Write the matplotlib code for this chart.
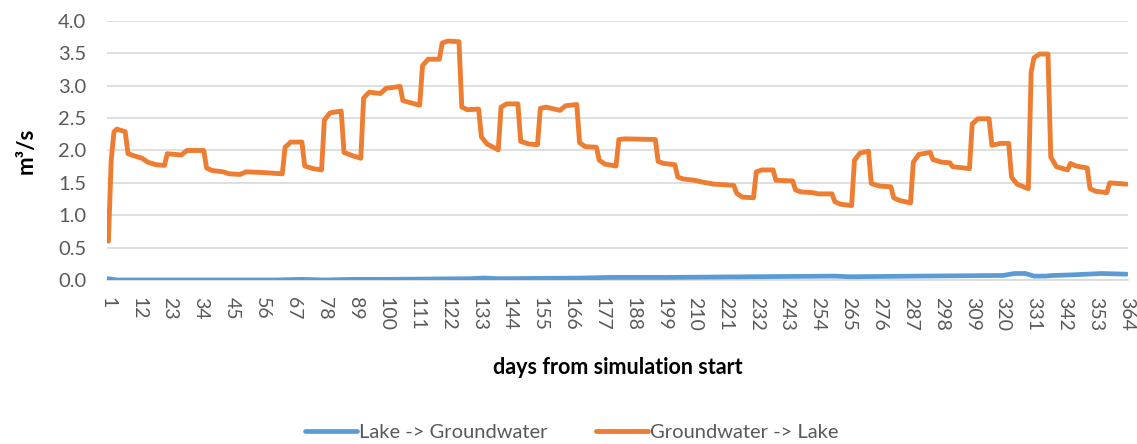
"""Daily lake / groundwater exchange flows over the simulation year."""

import matplotlib

matplotlib.use("Agg")
import matplotlib.pyplot as plt


# breakpoints (day, m3/s)
GW_TO_LAKE_DAYS = [
    1, 2, 3, 4, 7, 8, 10, 13, 15, 18, 21, 22, 27, 29, 35, 36, 38, 42, 44, 48,
    50, 56, 63, 64, 66, 70, 71, 74, 77, 78, 80, 84, 85, 88, 91, 92, 94, 98,
    100, 105, 106, 112, 113, 115, 119, 120, 122, 126, 127, 129, 133, 134, 136,
    140, 141, 143, 147, 148, 151, 154, 155, 157, 162, 164, 168, 169, 171, 175,
    176, 178, 182, 183, 185, 196, 197, 199, 203, 204, 206, 210, 213, 217, 221,
    224, 225, 227, 231, 232, 234, 238, 239, 245, 246, 248, 252, 254, 259, 260,
    262, 266, 267, 269, 272, 273, 276, 280, 281, 283, 287, 288, 290, 294, 295,
    298, 301, 302, 308, 309, 311, 315, 316, 319, 322, 323, 325, 329, 330, 331,
    333, 336, 337, 339, 343, 344, 346, 350, 351, 353, 357, 358, 364,
]
GW_TO_LAKE = [
    0.60, 1.85, 2.29, 2.33, 2.29, 1.95, 1.92, 1.88, 1.82, 1.78, 1.77, 1.95,
    1.93, 2.00, 2.00, 1.73, 1.69, 1.67, 1.64, 1.63, 1.67, 1.66, 1.64, 2.05,
    2.13, 2.13, 1.76, 1.72, 1.70, 2.47, 2.58, 2.61, 1.97, 1.92, 1.88, 2.81,
    2.90, 2.88, 2.96, 2.99, 2.77, 2.70, 3.31, 3.41, 3.41, 3.66, 3.69, 3.68,
    2.67, 2.63, 2.64, 2.21, 2.10, 2.01, 2.67, 2.72, 2.72, 2.14, 2.10, 2.09,
    2.65, 2.67, 2.62, 2.69, 2.71, 2.12, 2.06, 2.05, 1.85, 1.79, 1.76, 2.17,
    2.18, 2.17, 1.83, 1.80, 1.78, 1.59, 1.56, 1.54, 1.51, 1.48, 1.47, 1.46,
    1.34, 1.28, 1.27, 1.67, 1.70, 1.70, 1.54, 1.53, 1.39, 1.36, 1.35, 1.33,
    1.33, 1.21, 1.17, 1.15, 1.85, 1.96, 1.99, 1.49, 1.45, 1.44, 1.27, 1.23,
    1.19, 1.82, 1.94, 1.97, 1.86, 1.82, 1.81, 1.75, 1.72, 2.41, 2.49, 2.49,
    2.08, 2.11, 2.11, 1.59, 1.48, 1.41, 3.21, 3.43, 3.49, 3.49, 1.90, 1.75,
    1.70, 1.80, 1.76, 1.73, 1.41, 1.37, 1.35, 1.50, 1.48,
]

LAKE_TO_GW_DAYS = [
    1, 4, 60, 70, 78, 88, 100, 130, 135, 140, 170, 180, 200, 230, 260, 265,
    290, 320, 324, 328, 331, 335, 338, 345, 350, 355, 364,
]
LAKE_TO_GW = [
    0.02, 0.00, 0.00, 0.01, 0.00, 0.01, 0.01, 0.02, 0.03, 0.02, 0.03, 0.04,
    0.04, 0.05, 0.06, 0.05, 0.06, 0.07, 0.10, 0.10, 0.06, 0.06, 0.07, 0.08,
    0.09, 0.10, 0.09,
]

X_TICKS = list(range(1, 365, 11))
Y_TICKS = [0.0, 0.5, 1.0, 1.5, 2.0, 2.5, 3.0, 3.5, 4.0]

BLUE = "#5B9BD5"
ORANGE = "#ED7D31"
GRID = "#D9D9D9"
TEXT = "#595959"


def main() -> None:
    plt.rcParams["font.family"] = ["Lato", "DejaVu Sans"]

    fig = plt.figure(figsize=(11.37, 4.44), dpi=100)
    ax = fig.add_axes([0.0941, 0.3694, 0.8979, 0.5833])

    ax.plot(LAKE_TO_GW_DAYS, LAKE_TO_GW, color=BLUE, lw=3.4,
            solid_joinstyle="round", solid_capstyle="round",
            label="Lake -> Groundwater", zorder=3)
    ax.plot(GW_TO_LAKE_DAYS, GW_TO_LAKE, color=ORANGE, lw=3.5,
            solid_joinstyle="round", solid_capstyle="round",
            label="Groundwater -> Lake", zorder=3)

    ax.set_xlim(0.5, 364.5)
    ax.set_ylim(0, 4.0)
    ax.set_xticks(X_TICKS)
    ax.set_xticklabels([str(t) for t in X_TICKS], rotation=270, va="top",
                       ha="center", fontsize=14, color=TEXT)
    ax.set_yticks(Y_TICKS)
    ax.set_yticklabels([f"{t:.1f}" for t in Y_TICKS], fontsize=14.5, color=TEXT)
    ax.tick_params(axis="both", length=0)
    ax.tick_params(axis="x", pad=12)
    ax.tick_params(axis="y", pad=15)

    ax.grid(axis="y", color=GRID, lw=1.2)
    ax.set_axisbelow(True)
    for side in ["top", "right", "left"]:
        ax.spines[side].set_visible(False)
    ax.spines["bottom"].set_color(GRID)
    ax.spines["bottom"].set_linewidth(1.2)

    ax.set_ylabel("m³/s", fontsize=16, fontweight="bold", labelpad=15)
    ax.set_xlabel("days from simulation start", fontsize=15.5,
                  fontweight="bold", labelpad=19)

    fig.legend(loc="center", bbox_to_anchor=(0.503, 0.027), ncol=2,
               frameon=False, fontsize=14.5, handlelength=2.6,
               columnspacing=2.4, handletextpad=0.1, labelcolor=TEXT)

    fig.savefig("out.png", dpi=100)
    plt.close(fig)


if __name__ == "__main__":
    main()
